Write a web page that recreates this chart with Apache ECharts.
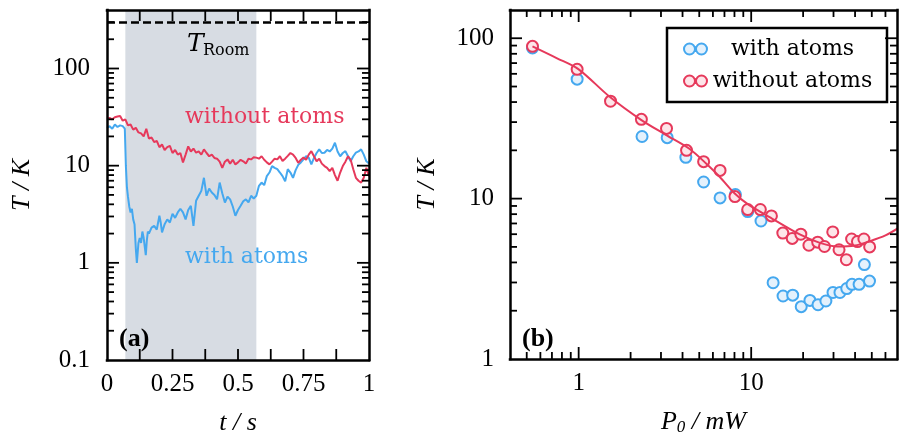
<!DOCTYPE html>
<html>
<head>
<meta charset="utf-8">
<script src="https://cdn.jsdelivr.net/npm/echarts@6/dist/echarts.min.js"></script>
<style>html,body{margin:0;background:#fff}#chart{width:900px;height:441px}</style>
</head>
<body>
<div id="chart"></div>
<script>
// panel (a): temperature traces vs time
const tWithout = [0,0.01,0.02,0.03,0.04,0.05,0.06,0.07,0.08,0.09,0.1,0.11,0.12,0.13,0.14,0.15,0.16,0.17,0.18,0.19,
  0.2,0.21,0.22,0.23,0.24,0.25,0.26,0.27,0.28,0.29,0.3,0.31,0.32,0.33,0.34,0.35,0.36,0.37,0.38,0.39,
  0.4,0.41,0.42,0.43,0.44,0.45,0.46,0.47,0.48,0.49,0.5,0.51,0.52,0.53,0.54,0.55,0.56,0.57,0.58,0.59,
  0.6,0.61,0.62,0.63,0.64,0.65,0.66,0.67,0.68,0.69,0.7,0.71,0.72,0.73,0.74,0.75,0.76,0.77,0.78,0.79,
  0.8,0.81,0.82,0.83,0.84,0.85,0.86,0.87,0.88,0.89,0.9,0.91,0.92,0.93,0.94,0.95,0.96,0.97,0.98,0.99,1];
const TWithout = [30.5,31,30,31.5,32,32.5,29,30,26,26.5,23.5,24.5,22,21.5,20,24,19,19.5,17.5,18,
  15.5,16.5,14.5,15.5,16,13.5,14.5,13,13.5,10.8,13,15.8,14,15,13.6,14,13,14.7,13.5,12.5,
  13,12,11.8,11,9.5,11,11.6,10.5,11.5,10.3,10.8,11.5,11.1,10.5,11.8,11.6,12.2,12.1,11.8,12.5,
  11.5,10.8,10.3,11,11.8,11.6,12.5,11.2,11.8,12.6,13.5,13,12,10.7,11.5,12.1,11.5,13,14.1,12.5,
  11.1,11.8,10.5,9.9,9.5,8.8,9.5,8,7,8.5,9.9,11,12.5,11.5,9.2,7.5,7,6.7,7.5,9.5,7.8];

const tWith = [0,0.01,0.02,0.03,0.04,0.05,0.06,0.065,0.068,0.072,0.076,0.08,0.085,0.09,0.095,0.1,0.105,0.11,0.114,
  0.12,0.125,0.13,0.135,0.14,0.145,0.148,0.152,0.156,0.16,0.17,0.18,0.19,0.2,0.205,0.21,0.22,0.23,0.24,
  0.25,0.26,0.27,0.28,0.29,0.3,0.31,0.32,0.33,0.34,0.35,0.36,0.37,0.38,0.39,0.4,0.41,0.42,0.43,0.44,
  0.45,0.46,0.47,0.48,0.49,0.5,0.51,0.52,0.53,0.54,0.55,0.56,0.57,0.58,0.59,0.6,0.61,0.62,0.63,0.64,
  0.65,0.66,0.67,0.68,0.69,0.7,0.71,0.72,0.73,0.74,0.75,0.76,0.77,0.78,0.79,0.8,0.81,0.82,0.83,0.84,
  0.85,0.86,0.87,0.88,0.89,0.9,0.91,0.92,0.93,0.94,0.95,0.96,0.97,0.98,0.99,1];
const TWith = [24.5,25.5,24,26.5,25,26,25.5,25.5,24,10,6,4.8,3.8,3.3,3.6,2.8,2.5,1.4,1.0,
  1.6,1.8,1.6,2.1,1.8,1.4,1.2,1.7,2.1,2.0,2.3,2.4,2.2,3.05,2.6,2.06,2.5,2.8,2.6,
  3.2,2.9,3.3,3.6,3.3,2.8,3.5,3.86,2.4,4.35,4.9,5.5,7.5,4.9,5.8,5.3,5.0,4.5,6.7,5.2,
  4.17,4.8,4.5,3.8,3.05,3.5,3.86,4.3,4.5,4.2,4.9,4.6,4.9,6.2,6.7,6.3,7.8,8.5,9.9,9.5,
  9.2,8.5,7.8,6.9,9.2,8.5,7.5,9.0,10.2,10.8,11.6,12.5,12.1,10.3,12,13.5,14.7,13.5,13.6,14.5,
  14,15,17.2,14,12.5,13.5,14.1,12.5,11.1,12.5,13.6,14,14.7,13,11.1,10.5];

const tRoom = 300;
const shadeFrom = 0.07, shadeTo = 0.57;

// panel (b): temperature vs power
const pWith = [0.54,0.98,2.33,3.26,4.18,5.3,6.6,8.1,9.55,11.4,13.4,15.3,17.4,19.5,21.9,24.4,27.1,29.8,32.7,35.8,38.4,42.2,45.3,48.5];
const TWithP = [87,55.6,24.4,24,18.1,12.7,10.1,10.6,8.3,7.25,2.99,2.47,2.5,2.12,2.32,2.18,2.3,2.6,2.6,2.75,2.92,2.92,3.88,3.06];
const pWithout = [0.54,0.98,1.53,2.31,3.23,4.22,5.3,6.6,8.05,9.55,11.3,13.1,15.25,17.3,19.4,21.6,24.3,26.6,29.7,32.3,35.6,38.2,41.3,45,48.6];
const TWithoutP = [89,64,40.5,31.2,27.4,20,17,15,10.3,8.55,8.55,7.8,6.1,5.65,6.0,5.12,5.35,5.03,6.2,4.8,4.16,5.6,5.4,5.6,5.0];
const fitP = [0.54,0.75,1,1.5,2.3,3.2,4.4,5.5,6.6,8,9.6,12.7,19,25,31.6,40,48,60,72];
const fitT = [89,75,64,43.5,31,25,20.4,16.5,13.6,10.8,9.2,7.7,6.0,5.3,5.03,5.1,5.4,5.9,6.6];

// tick values (drawn on all four sides, pointing inward)
const leftTicksX = [0.125,0.25,0.375,0.5,0.625,0.75,0.875];
const leftMajorY = [1,10,100];
const leftMinorY = [0.2,0.3,0.4,0.5,0.6,0.7,0.8,0.9,2,3,4,5,6,7,8,9,20,30,40,50,60,70,80,90,200,300];
const rightMajorX = [1,10];
const rightMinorX = [0.5,0.6,0.7,0.8,0.9,2,3,4,5,6,7,8,9,20,30,40,50,60];
const rightMajorY = [10,100];
const rightMinorY = [2,3,4,5,6,7,8,9,20,30,40,50,60,70,80,90];

const red = '#e6395b', blue = '#45a8ef';
const redFill = '#fde5e9', blueFill = '#e4f1fc';
const serif = 'Liberation Serif';
const tickLabel = { fontFamily: serif, fontSize: 25, color: '#000' };
const frame = { color: '#000', width: 2.5, cap: 'square' };
const nameStyle = { fontFamily: serif, fontStyle: 'italic', fontSize: 26, color: '#000' };

const zip = (a, b) => a.map((v, i) => [v, b[i]]);
const decade = v => {
  const l = Math.log10(v);
  return Math.abs(l - Math.round(l)) < 1e-6 ? String(+v.toPrecision(6)) : '';
};

// [x, y, length, 0 = x tick / 1 = y tick]
const tickItems = (x0, y0, xMaj, xMin, yMaj, yMin, xLen) => [].concat(
  xMaj.map(v => [v, y0, xLen, 0]), xMin.map(v => [v, y0, 7, 0]),
  yMaj.map(v => [x0, v, 12, 1]), yMin.map(v => [x0, v, 7, 1]));

const renderTick = (params, api) => {
  const cs = params.coordSys;
  const len = api.value(2);
  const p = api.coord([api.value(0), api.value(1)]);
  const st = { stroke: '#000', lineWidth: 1.8 };
  const seg = (x1, y1, x2, y2) => ({ type: 'line', shape: { x1, y1, x2, y2 }, style: st });
  const b = cs.y + cs.height, r = cs.x + cs.width;
  return {
    type: 'group',
    children: api.value(3) === 0
      ? [seg(p[0], b, p[0], b - len), seg(p[0], cs.y, p[0], cs.y + len)]
      : [seg(cs.x, p[1], cs.x + len, p[1]), seg(r, p[1], r - len, p[1])]
  };
};

const frameAxis = extra => Object.assign({
  z: 10,
  splitLine: { show: false },
  axisLine: { show: true, onZero: false, lineStyle: frame },
  axisTick: { show: false },
  axisLabel: { show: false }
}, extra);

const linXa = { gridIndex: 0, type: 'value', min: 0, max: 1, interval: 0.25 };
const logXb = { gridIndex: 1, type: 'log', logBase: 10, min: 0.4, max: 70 };
const logYa = { gridIndex: 0, type: 'log', logBase: 10, min: 0.1, max: 400 };
const logYb = { gridIndex: 1, type: 'log', logBase: 10, min: 1, max: 150 };

const chart = echarts.init(document.getElementById('chart'));
chart.setOption({
  animation: false,
  backgroundColor: '#fff',
  grid: [
    { left: 107, top: 10, width: 262, height: 351 },
    { left: 510, top: 10, width: 388, height: 352 }
  ],
  xAxis: [
    frameAxis(Object.assign({}, linXa, {
      position: 'bottom',
      axisLabel: Object.assign({ show: true, margin: 12, showMinLabel: true, showMaxLabel: true }, tickLabel),
      name: 't / s', nameLocation: 'middle', nameGap: 50, nameTextStyle: nameStyle
    })),
    frameAxis(Object.assign({}, linXa, { position: 'top' })),
    frameAxis(Object.assign({}, logXb, {
      position: 'bottom',
      axisLabel: Object.assign({ show: true, margin: 12, showMinLabel: true, showMaxLabel: true, formatter: decade }, tickLabel),
      name: '{i|P}{s|0}{i| / mW}', nameLocation: 'middle', nameGap: 50,
      nameTextStyle: Object.assign({}, nameStyle, {
        rich: {
          i: { fontFamily: serif, fontStyle: 'italic', fontSize: 26, color: '#000' },
          s: { fontFamily: serif, fontSize: 17, color: '#000', padding: [10, 0, 0, 0] }
        }
      })
    })),
    frameAxis(Object.assign({}, logXb, { position: 'top' }))
  ],
  yAxis: [
    frameAxis(Object.assign({}, logYa, {
      position: 'left',
      axisLabel: Object.assign({ show: true, margin: 17, showMinLabel: true, showMaxLabel: true, formatter: decade }, tickLabel),
      name: 'T / K', nameLocation: 'middle', nameGap: 72, nameTextStyle: nameStyle
    })),
    frameAxis(Object.assign({}, logYa, { position: 'right' })),
    frameAxis(Object.assign({}, logYb, {
      position: 'left',
      axisLabel: Object.assign({ show: true, margin: 16, showMinLabel: true, showMaxLabel: true, formatter: decade }, tickLabel),
      name: 'T / K', nameLocation: 'middle', nameGap: 70, nameTextStyle: nameStyle
    })),
    frameAxis(Object.assign({}, logYb, { position: 'right' }))
  ],
  legend: {
    orient: 'vertical',
    left: 667, top: 28,
    padding: [10, 14, 10, 16],
    itemGap: 10,
    itemWidth: 23, itemHeight: 11,
    borderColor: '#000', borderWidth: 2.5,
    backgroundColor: '#fff',
    icon: 'path://M0,5.5A5.5,5.5,0,1,1,11,5.5A5.5,5.5,0,1,1,0,5.5ZM12,5.5A5.5,5.5,0,1,1,23,5.5A5.5,5.5,0,1,1,12,5.5Z',
    data: ['with atoms', 'without atoms'],
    formatter: '{n|{name}}',
    textStyle: {
      rich: { n: { width: 161, align: 'center', fontFamily: 'DejaVu Serif', fontSize: 22, lineHeight: 26, color: '#000' } }
    }
  },
  graphic: [
    { type: 'text', z: 100, x: 187, y: 44, style: { text: 'T', font: 'italic 25px "DejaVu Serif"', fill: '#000', verticalAlign: 'middle' } },
    { type: 'text', z: 100, x: 203, y: 51, style: { text: 'Room', font: '16px "DejaVu Serif"', fill: '#000', verticalAlign: 'middle' } },
    { type: 'text', z: 100, x: 185, y: 117, style: { text: 'without atoms', font: '22px "DejaVu Serif"', fill: red, verticalAlign: 'middle' } },
    { type: 'text', z: 100, x: 185, y: 257, style: { text: 'with atoms', font: '22px "DejaVu Serif"', fill: blue, verticalAlign: 'middle' } },
    { type: 'text', z: 100, x: 119, y: 339, style: { text: '(a)', font: 'bold 26px "Liberation Serif"', fill: '#000', verticalAlign: 'middle' } },
    { type: 'text', z: 100, x: 522, y: 339, style: { text: '(b)', font: 'bold 26px "Liberation Serif"', fill: '#000', verticalAlign: 'middle' } }
  ],
  series: [
    {
      name: 'with atoms trace', type: 'line', xAxisIndex: 0, yAxisIndex: 0,
      data: zip(tWith, TWith), showSymbol: false, symbol: 'none',
      lineStyle: { color: blue, width: 2 },
      markLine: {
        silent: true, symbol: ['none', 'none'], label: { show: false },
        lineStyle: { color: '#000', width: 2.5, type: [8, 4] },
        data: [{ yAxis: tRoom }]
      }
    },
    {
      name: 'without atoms trace', type: 'line', xAxisIndex: 0, yAxisIndex: 0,
      data: zip(tWithout, TWithout), showSymbol: false, symbol: 'none',
      lineStyle: { color: red, width: 2 },
      markArea: {
        silent: true,
        itemStyle: { color: '#d7dce3' },
        data: [[{ xAxis: shadeFrom }, { xAxis: shadeTo }]]
      }
    },
    {
      name: 'fit', type: 'line', xAxisIndex: 2, yAxisIndex: 2,
      data: zip(fitP, fitT), showSymbol: false, symbol: 'none', smooth: 0.3,
      lineStyle: { color: red, width: 2 }
    },
    {
      name: 'with atoms', type: 'scatter', xAxisIndex: 2, yAxisIndex: 2,
      data: zip(pWith, TWithP), symbol: 'circle', symbolSize: 11,
      itemStyle: { color: blueFill, borderColor: blue, borderWidth: 2, opacity: 1 }
    },
    {
      name: 'without atoms', type: 'scatter', xAxisIndex: 2, yAxisIndex: 2,
      data: zip(pWithout, TWithoutP), symbol: 'circle', symbolSize: 11,
      itemStyle: { color: redFill, borderColor: red, borderWidth: 2, opacity: 1 }
    },
    {
      name: 'ticks a', type: 'custom', xAxisIndex: 0, yAxisIndex: 0, z: 20, silent: true, clip: false,
      renderItem: renderTick,
      data: tickItems(0, 0.1, leftTicksX, [], leftMajorY, leftMinorY, 11)
    },
    {
      name: 'ticks b', type: 'custom', xAxisIndex: 2, yAxisIndex: 2, z: 20, silent: true, clip: false,
      renderItem: renderTick,
      data: tickItems(0.4, 1, rightMajorX, rightMinorX, rightMajorY, rightMinorY, 12)
    }
  ]
});
</script>
</body>
</html>
